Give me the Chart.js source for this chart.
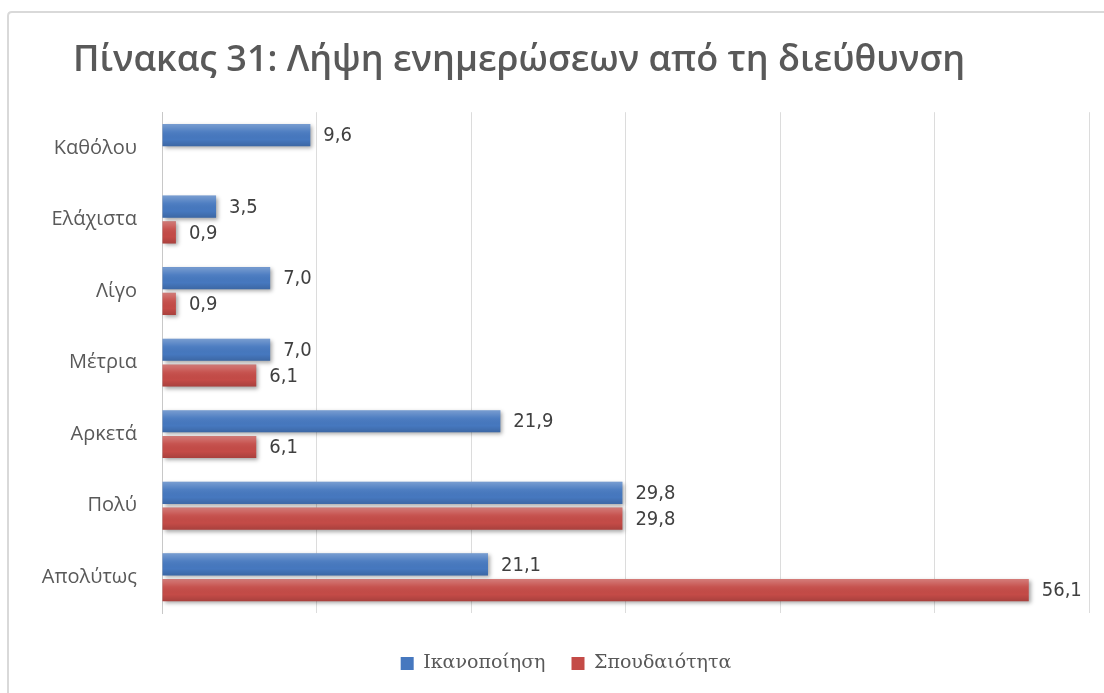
<!DOCTYPE html>
<html>
<head>
<meta charset="utf-8">
<script src="https://cdn.jsdelivr.net/npm/chart.js@4.4.1/dist/chart.umd.min.js"></script>
<style>
html,body{margin:0;padding:0;background:#fff;}
#wrap{width:1104px;height:693px;position:relative;}
</style>
</head>
<body>
<div id="wrap"><canvas id="chart" width="1104" height="693"></canvas></div>
<script>
const categories=["Καθόλου","Ελάχιστα","Λίγο","Μέτρια","Αρκετά","Πολύ","Απολύτως"];
const satisfaction=[9.6,3.5,7.0,7.0,21.9,29.8,21.1];
const importance=[null,0.9,0.9,6.1,6.1,29.8,56.1];
const seriesNames=["Ικανοποίηση","Σπουδαιότητα"];
const chartTitle="Πίνακας 31: Λήψη ενημερώσεων από τη διεύθυνση";

const grayText="#595959";

// outer frame of the chart (only top and left edges fall inside the canvas)
const framePlugin={
  id:"frame",
  beforeDraw(chart){
    const c=chart.ctx;c.save();
    c.fillStyle="#fff";c.fillRect(0,0,chart.width,chart.height);
    c.strokeStyle="#d9d9d9";c.lineWidth=2;
    c.beginPath();c.moveTo(8,chart.height+10);c.lineTo(8,16);c.quadraticCurveTo(8,12,12,12);c.lineTo(chart.width+10,12);c.stroke();
    c.restore();
  }
};

// nudge title and legend sideways
const placePlugin={
  id:"place",
  afterLayout(chart){
    const t=chart.titleBlock;if(t){const w=t.right-t.left;t.left=519-w/2;t.right=519+w/2;}
    const l=chart.legend;if(l){const w=l.right-l.left;l.left=566-w/2;l.right=566+w/2;}
  }
};

// soft drop shadow under the bars, then a little shading and the value labels
const barLookPlugin={
  id:"barLook",
  beforeDatasetsDraw(chart){
    const c=chart.ctx;c.save();
    c.shadowColor="rgba(0,0,0,0.35)";c.shadowBlur=4;c.shadowOffsetX=2;c.shadowOffsetY=2;
  },
  afterDatasetsDraw(chart){
    const c=chart.ctx;c.restore();c.save();
    chart.data.datasets.forEach((ds,di)=>{
      chart.getDatasetMeta(di).data.forEach((bar,i)=>{
        const v=ds.data[i];if(v==null)return;
        const p=bar.getProps(["x","y","base","height"],true);
        const top=p.y-p.height/2,bot=p.y+p.height/2;
        const g=c.createLinearGradient(0,top,0,bot);
        g.addColorStop(0,"rgba(255,255,255,0.28)");g.addColorStop(0.35,"rgba(255,255,255,0.05)");
        g.addColorStop(0.7,"rgba(0,0,0,0)");g.addColorStop(1,"rgba(0,0,0,0.14)");
        c.fillStyle=g;c.fillRect(p.base,top,p.x-p.base,p.height);
        c.fillStyle="#404040";c.font='20px "Liberation Sans Narrow","DejaVu Sans Condensed",sans-serif';
        c.textAlign="left";c.textBaseline="middle";
        c.fillText(v.toFixed(1).replace(".",","),p.x+13,p.y+1);
      });
    });
    c.restore();
  }
};

new Chart(document.getElementById("chart"),{
  type:"bar",
  data:{labels:categories,datasets:[
    {label:seriesNames[0],data:satisfaction,backgroundColor:"#4678bf"},
    {label:seriesNames[1],data:importance,backgroundColor:"#c44b47"}
  ]},
  options:{
    indexAxis:"y",responsive:false,animation:false,
    categoryPercentage:0.72,barPercentage:0.86,
    layout:{padding:{left:8,right:15,top:0,bottom:10}},
    scales:{
      x:{min:0,max:60,ticks:{display:false,stepSize:10},
        grid:{color:"#dcdcdc",drawTicks:false},border:{display:false},
        afterFit(s){s.height=15;}},
      y:{grid:{display:false,drawTicks:false},border:{display:true,color:"#c8c8c8",width:1},
        ticks:{color:grayText,padding:25,font:{family:'"Open Sans"',size:20}},
        afterFit(s){s.width=154;}}
    },
    plugins:{
      title:{display:true,text:chartTitle,color:grayText,
        font:{family:'"Open Sans"',size:36,weight:"600"},padding:{top:39,bottom:30}},
      legend:{position:"bottom",
        labels:{boxWidth:13,boxHeight:13,padding:26,color:grayText,font:{family:'"DejaVu Serif"',size:19}}},
      tooltip:{enabled:false}
    }
  },
  plugins:[framePlugin,placePlugin,barLookPlugin]
});
</script>
</body>
</html>
